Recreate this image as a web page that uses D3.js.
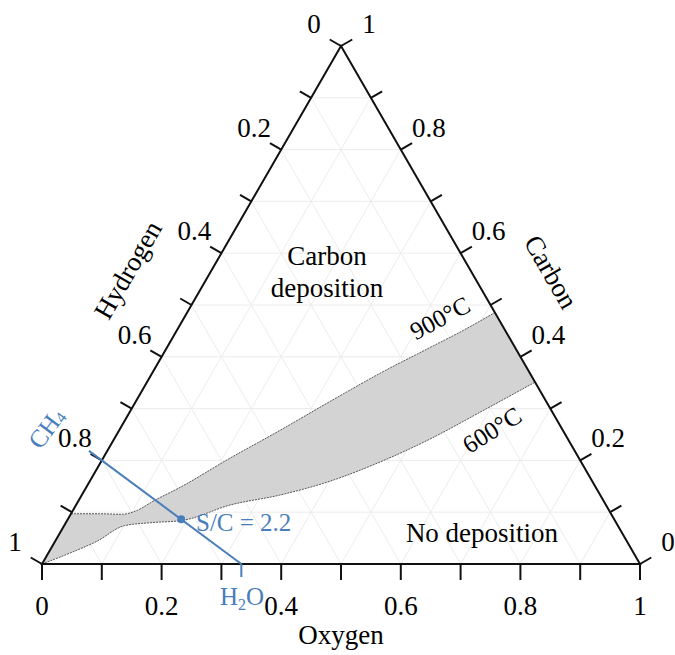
<!DOCTYPE html>
<html lang="en">
<head>
<meta charset="UTF-8">
<title>Carbon deposition ternary diagram</title>
<script src="https://d3js.org/d3.v7.min.js"></script>
<style>
  body { margin: 0; background: #fff; }
</style>
</head>
<body>
<svg id="chart" width="675" height="655"></svg>
<script>
// Punkte sind [Sauerstoff, Kohlenstoff]; Wasserstoff = 1 - O - C
var tickValues = d3.range(0, 1.0001, 0.1);
var labelValues = [0, 0.2, 0.4, 0.6, 0.8, 1];

// Grenze der Kohlenstoffabscheidung bei 900°C
var boundary900 = [
    [0.000, 0.097], [0.048, 0.097], [0.086, 0.096], [0.108, 0.104],
    [0.125, 0.121], [0.157, 0.148], [0.212, 0.204], [0.269, 0.258],
    [0.325, 0.314], [0.381, 0.368], [0.440, 0.418], [0.479, 0.451],
    [0.5145, 0.4855]
];
// Grenze bei 600°C
var boundary600 = [
    [0.000, 0.000], [0.036, 0.021], [0.070, 0.044], [0.101, 0.074],
    [0.145, 0.080], [0.192, 0.084], [0.258, 0.114], [0.331, 0.133],
    [0.402, 0.160], [0.467, 0.197], [0.528, 0.241], [0.586, 0.293],
    [0.649, 0.351]
];

var ch4 = [0, 0.2];        // CH4: C=1, H=4
var h2o = [1 / 3, 0];      // H2O: H=2, O=1
var steamCarbon = 2.2;

var svg = d3.select("#chart")
    .attr("font-family", "'Liberation Serif', 'Times New Roman', Times, 'DejaVu Serif', serif");
var s3 = Math.sqrt(3) / 2;
var ink = "#000";
var blue = "#4a7ebb";

var x = d3.scaleLinear().domain([0, 1]).range([42, 640]);
var y = d3.scaleLinear().domain([0, s3]).range([564, 46]);

function px(p) {
    return [x(p[0] + p[1] / 2), y(p[1] * s3)];
}

// Gitterlinien
var grid = svg.append("g").attr("stroke", "#ececec").attr("stroke-width", 1);
tickValues.slice(1, -1).forEach(function(t) {
    var lines = [
        [[t, 0], [t, 1 - t]],          // Sauerstoff konstant
        [[0, t], [1 - t, t]],          // Kohlenstoff konstant
        [[1 - t, 0], [0, 1 - t]]       // Wasserstoff konstant
    ];
    lines.forEach(function(l) {
        var a = px(l[0]), b = px(l[1]);
        grid.append("line").attr("x1", a[0]).attr("y1", a[1]).attr("x2", b[0]).attr("y2", b[1]);
    });
});

// Bereich zwischen 600°C und 900°C
var line = d3.line().x(d => px(d)[0]).y(d => px(d)[1]).curve(d3.curveMonotoneX);
var upperD = line(boundary900);
var lowerRevD = line(boundary600.slice().reverse());
svg.append("path")
    .attr("d", upperD + "L" + lowerRevD.slice(1) + "Z")
    .attr("fill", "#d3d3d3")
    .attr("stroke", "none");
[boundary900, boundary600].forEach(function(b) {
    svg.append("path")
        .attr("d", line(b))
        .attr("fill", "none")
        .attr("stroke", "#555")
        .attr("stroke-width", 1)
        .attr("stroke-dasharray", "2,1");
});

// Dreieck
var corners = [[0, 0], [1, 0], [0, 1]].map(px);
svg.append("path")
    .attr("d", "M" + corners.join("L") + "Z")
    .attr("fill", "none")
    .attr("stroke", "#111")
    .attr("stroke-width", 2);

// Ticks
var tickLen = 13;
var c30 = Math.cos(Math.PI / 6), s30 = 0.5;
var ticks = svg.append("g").attr("stroke", "#111").attr("stroke-width", 2);
tickValues.forEach(function(t) {
    var b = px([t, 0]);
    ticks.append("line").attr("x1", b[0]).attr("y1", b[1]).attr("x2", b[0]).attr("y2", b[1] + tickLen + 3);
    var l = px([0, 1 - t]);
    ticks.append("line").attr("x1", l[0]).attr("y1", l[1]).attr("x2", l[0] - c30 * tickLen).attr("y2", l[1] - s30 * tickLen);
    var r = px([1 - t, t]);
    ticks.append("line").attr("x1", r[0]).attr("y1", r[1]).attr("x2", r[0] + c30 * tickLen).attr("y2", r[1] - s30 * tickLen);
});

// Tick-Beschriftungen
var fs = 27;
var fmt = d => String(+d.toFixed(1));
labelValues.forEach(function(t) {
    var b = px([t, 0]);
    svg.append("text").attr("x", b[0]).attr("y", 615).attr("fill", ink)
        .attr("text-anchor", "middle").attr("font-size", fs).text(fmt(t));
    var l = px([0, 1 - t]);
    svg.append("text").attr("x", l[0] - 27).attr("y", l[1] - 22).attr("fill", ink)
        .attr("text-anchor", "middle").attr("dominant-baseline", "central").attr("font-size", fs).text(fmt(t));
    var r = px([1 - t, t]);
    svg.append("text").attr("x", r[0] + 28).attr("y", r[1] - 22).attr("fill", ink)
        .attr("text-anchor", "middle").attr("dominant-baseline", "central").attr("font-size", fs).text(fmt(t));
});

// Achsentitel
svg.append("text").attr("x", 341).attr("y", 644).attr("fill", ink)
    .attr("text-anchor", "middle").attr("font-size", fs).text("Oxygen");
svg.append("text").attr("transform", "translate(128,270) rotate(-60)").attr("fill", ink)
    .attr("text-anchor", "middle").attr("dominant-baseline", "central").attr("font-size", fs).text("Hydrogen");
svg.append("text").attr("transform", "translate(551,272) rotate(60)").attr("fill", ink)
    .attr("text-anchor", "middle").attr("dominant-baseline", "central").attr("font-size", fs).text("Carbon");

// Bereichsbeschriftungen
svg.append("text").attr("x", 327).attr("y", 265).attr("fill", ink).attr("text-anchor", "middle").attr("font-size", fs).text("Carbon");
svg.append("text").attr("x", 327).attr("y", 297).attr("fill", ink).attr("text-anchor", "middle").attr("font-size", fs).text("deposition");
svg.append("text").attr("x", 482).attr("y", 542).attr("fill", ink).attr("text-anchor", "middle").attr("font-size", fs).text("No deposition");
svg.append("text").attr("transform", "translate(440,318) rotate(-28)").attr("fill", ink)
    .attr("text-anchor", "middle").attr("dominant-baseline", "central").attr("font-size", 25).text("900°C");
svg.append("text").attr("transform", "translate(492,430) rotate(-32)").attr("fill", ink)
    .attr("text-anchor", "middle").attr("dominant-baseline", "central").attr("font-size", 25).text("600°C");

// S/C-Linie zwischen CH4 und H2O
var pA = px(ch4), pB = px(h2o);
var dx = pB[0] - pA[0], dy = pB[1] - pA[1], len = Math.hypot(dx, dy);
var ux = dx / len, uy = dy / len;
var ext = 16;
svg.append("line")
    .attr("x1", pA[0] - ux * ext).attr("y1", pA[1] - uy * ext)
    .attr("x2", pB[0]).attr("y2", pB[1])
    .attr("stroke", blue).attr("stroke-width", 2);
svg.append("line")
    .attr("x1", pB[0]).attr("y1", pB[1]).attr("x2", pB[0]).attr("y2", pB[1] + 13)
    .attr("stroke", blue).attr("stroke-width", 2);

// Zusammensetzung bei S/C = 2.2: 1 C, 4 + 2*SC H, SC O
var nC = 1, nH = 4 + 2 * steamCarbon, nO = steamCarbon, tot = nC + nH + nO;
var pSC = px([nO / tot, nC / tot]);
svg.append("circle").attr("cx", pSC[0]).attr("cy", pSC[1]).attr("r", 4).attr("fill", blue);
svg.append("text").attr("fill", blue).attr("x", 196).attr("y", 531).attr("font-size", 25).text("S/C = 2.2");

var ang = Math.atan2(dy, dx) * 180 / Math.PI - 90;
var ch4Text = svg.append("text").attr("fill", blue)
    .attr("transform", "translate(46,428) rotate(" + ang + ")")
    .attr("text-anchor", "middle").attr("dominant-baseline", "central").attr("font-size", 25);
ch4Text.append("tspan").text("CH");
ch4Text.append("tspan").attr("font-size", 16).attr("dy", 5).text("4");

var h2oText = svg.append("text").attr("fill", blue)
    .attr("x", 242).attr("y", 605).attr("text-anchor", "middle").attr("font-size", 25);
h2oText.append("tspan").text("H");
h2oText.append("tspan").attr("font-size", 16).attr("dy", 5).text("2");
h2oText.append("tspan").attr("dy", -5).text("O");
</script>
</body>
</html>
